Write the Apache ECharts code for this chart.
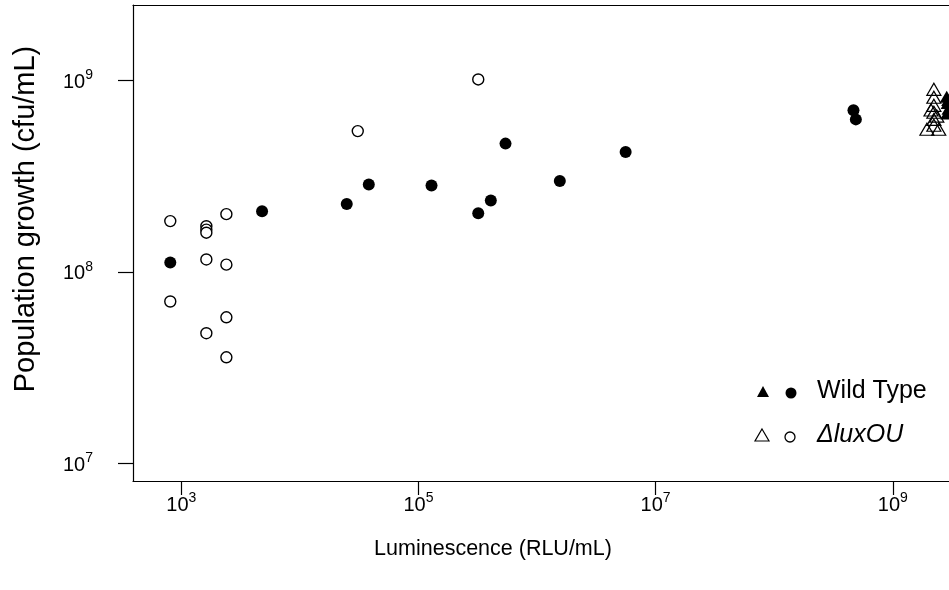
<!DOCTYPE html>
<html>
<head>
<meta charset="utf-8">
<script src="https://cdn.jsdelivr.net/npm/echarts@6/dist/echarts.min.js"></script>
<style>
html,body{margin:0;padding:0;background:#fff;}
#chart{width:949px;height:590px;}
</style>
</head>
<body>
<div id="chart"></div>
<script>
// Luminescence (RLU/mL) and population growth (cfu/mL)
var wtCircleX = [807, 4797, 24830, 38110, 128800, 319200, 407400, 542000, 1556000, 5585000, 4.66e8, 4.88e8];
var wtCircleY = [1.12e8, 2.07e8, 2.26e8, 2.86e8, 2.82e8, 2.02e8, 2.36e8, 4.67e8, 2.98e8, 4.22e8, 6.97e8, 6.25e8];

var muCircleX = [807, 807, 1626, 1626, 1626, 1626, 1626, 2399, 2399, 2399, 2399, 30760, 319200];
var muCircleY = [1.84e8, 7.0e7, 1.73e8, 1.66e8, 1.60e8, 1.16e8, 4.78e7, 2.00e8, 1.09e8, 5.79e7, 3.58e7, 5.43e8, 1.01e9];

var muTriX = [2.22e9, 2.22e9, 2.22e9, 2.22e9, 2.22e9, 2.22e9, 1.94e9, 2.44e9, 2.10e9, 2.35e9];
var muTriY = [8.97e8, 8.15e8, 7.40e8, 6.81e8, 6.25e8, 5.82e8, 5.55e8, 5.55e8, 7.0e8, 6.5e8];

var wtTriX = [2.85e9, 2.9e9, 2.95e9, 2.88e9, 2.93e9, 2.97e9];
var wtTriY = [8.2e8, 7.6e8, 7.1e8, 6.7e8, 7.9e8, 6.9e8];

var xTickExps = [3, 5, 7, 9];
var yTickExps = [7, 8, 9];

var xTitle = 'Luminescence (RLU/mL)';
var yTitle = 'Population growth (cfu/mL)';
var legendNames = ['Wild Type', '\u0394luxOU'];

function pts(xs, ys) {
  return xs.map(function (x, i) { return [Math.log10(x), Math.log10(ys[i])]; });
}

var FONT = "'Liberation Sans', Arial, sans-serif";
var supLabel = function (v) { return '{b|10}{s|' + Math.round(v) + '}'; };
var rich = {
  b: { fontSize: 20, fontFamily: FONT, color: '#000', verticalAlign: 'bottom', lineHeight: 24 },
  s: { fontSize: 14, fontFamily: FONT, color: '#000', verticalAlign: 'top', lineHeight: 24, padding: [0, 0, 10, 0] }
};

var X_MIN = 2.5925, X_MAX = 9.474, Y_MIN = 6.908, Y_MAX = 9.393;

var chart = echarts.init(document.getElementById('chart'), null, { renderer: 'canvas' });

var axisLineStyle = { color: '#000', width: 1.2 };
var option = {
  animation: false,
  backgroundColor: '#fff',
  grid: { left: 133, top: 5, right: 0, bottom: 109, show: false },
  xAxis: [{
    type: 'value', min: X_MIN, max: X_MAX,
    axisLine: { show: true, lineStyle: axisLineStyle },
    axisTick: { show: true, inside: false, length: 14, lineStyle: axisLineStyle, customValues: xTickExps },
    axisLabel: { customValues: xTickExps, formatter: supLabel, rich: rich, margin: 10 },
    splitLine: { show: false },
    name: xTitle, nameLocation: 'middle', nameGap: 57,
    nameTextStyle: { fontSize: 21.5, fontFamily: FONT, color: '#000', padding: [0, 96, 0, 0] }
  }, {
    type: 'value', position: 'top', min: X_MIN, max: X_MAX,
    axisLine: { show: true, lineStyle: axisLineStyle },
    axisTick: { show: false }, axisLabel: { show: false }, splitLine: { show: false }
  }],
  yAxis: {
    type: 'value', min: Y_MIN, max: Y_MAX,
    axisLine: { show: true, lineStyle: axisLineStyle },
    axisTick: { show: true, inside: false, length: 15, lineStyle: axisLineStyle, customValues: yTickExps },
    axisLabel: { customValues: yTickExps, formatter: supLabel, rich: rich, margin: 40 },
    splitLine: { show: false },
    name: yTitle, nameLocation: 'middle', nameGap: 93, nameRotate: 90,
    nameTextStyle: { fontSize: 29, fontFamily: FONT, color: '#000', padding: [0, 0, 0, 48] }
  },
  series: [
    { name: 'muTri', type: 'scatter', symbol: 'triangle', symbolSize: [14, 12], data: pts(muTriX, muTriY),
      itemStyle: { color: 'rgba(255,255,255,0)', borderColor: '#000', borderWidth: 1.2, opacity: 1 }, z: 3 },
    { name: 'wtTri', type: 'scatter', symbol: 'triangle', symbolSize: [14, 12], data: pts(wtTriX, wtTriY),
      itemStyle: { color: '#000', opacity: 1 }, z: 4 },
    { name: 'muCircle', type: 'scatter', symbol: 'circle', symbolSize: 11, data: pts(muCircleX, muCircleY),
      itemStyle: { color: '#fff', borderColor: '#000', borderWidth: 1.4, opacity: 1 }, z: 5 },
    { name: 'wtCircle', type: 'scatter', symbol: 'circle', symbolSize: 12, data: pts(wtCircleX, wtCircleY),
      itemStyle: { color: '#000', opacity: 1 }, z: 6 }
  ],
  graphic: [
    { type: 'polygon', shape: { points: [[763, 386], [769, 397], [757, 397]] }, style: { fill: '#000' } },
    { type: 'circle', shape: { cx: 791, cy: 393, r: 5.5 }, style: { fill: '#000' } },
    { type: 'text', left: 817, top: 379, style: { text: legendNames[0], font: "25px 'Liberation Sans', Arial, sans-serif", fill: '#000' } },
    { type: 'polygon', shape: { points: [[762, 429], [769, 441], [755, 441]] }, style: { fill: '#fff', stroke: '#000', lineWidth: 1.2 } },
    { type: 'circle', shape: { cx: 790, cy: 437, r: 5 }, style: { fill: '#fff', stroke: '#000', lineWidth: 1.3 } },
    { type: 'text', left: 817, top: 423, style: { text: legendNames[1], font: "italic 25px 'Liberation Sans', Arial, sans-serif", fill: '#000' } }
  ]
};
chart.setOption(option);
</script>
</body>
</html>
